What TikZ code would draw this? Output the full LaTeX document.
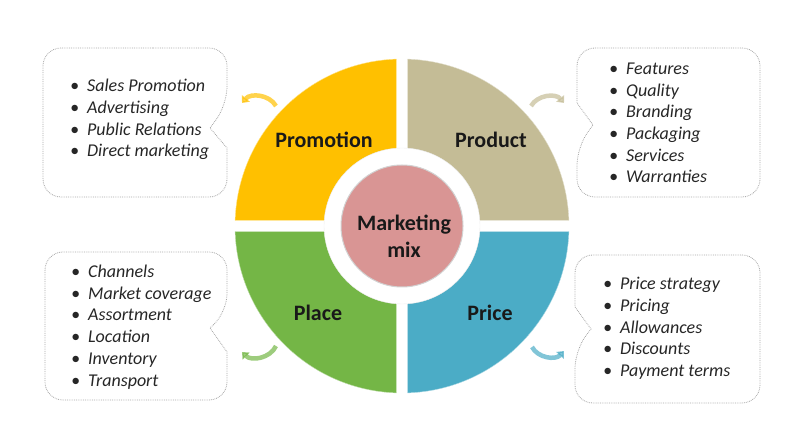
\documentclass[tikz,border=0pt]{standalone}
\usepackage{fontspec}
\setmainfont{Carlito}
\usetikzlibrary{arrows.meta}

\definecolor{promocol}{HTML}{FFC000}
\definecolor{prodcol}{HTML}{C4BC96}
\definecolor{placecol}{HTML}{74B646}
\definecolor{pricecol}{HTML}{4BACC6}
\definecolor{mixcol}{HTML}{D99594}

\tikzset{
  quadlabel/.style={font=\bfseries\fontsize{22}{27}\selectfont, text=black!90, align=center},
  callout/.style={draw=gray!70, densely dotted, line width=0.8pt},
  items/.style={font=\itshape\fontsize{18}{21.7}\selectfont, text=black!85, align=left, anchor=west, inner sep=0pt},
  turnarrow/.style={line width=4.5pt, -{Triangle[length=6pt,width=10pt]}, opacity=0.7},
}

\begin{document}
\begin{tikzpicture}[x=1pt,y=1pt]
    \useasboundingbox (0,0) rectangle (800,425);
    % the four quarters
    \begin{scope}[shift={(402,199)}]
      \filldraw[fill=promocol, draw=promocol!45!white] (-5.5,5.5) -- (91.9:167) arc[start angle=91.9, end angle=178.1, radius=167] -- cycle;
      \filldraw[fill=prodcol, draw=prodcol!45!white] (5.5,5.5) -- (1.9:167) arc[start angle=1.9, end angle=88.1, radius=167] -- cycle;
      \filldraw[fill=placecol, draw=placecol!45!white] (-5.5,-5.5) -- (181.9:167) arc[start angle=181.9, end angle=268.1, radius=167] -- cycle;
      \filldraw[fill=pricecol, draw=pricecol!45!white] (5.5,-5.5) -- (271.9:167) arc[start angle=271.9, end angle=358.1, radius=167] -- cycle;
      \filldraw[fill=white, draw=gray!15] (0,0) circle[radius=78];
      \filldraw[fill=mixcol, draw=gray!35, line width=1pt] (0,0) circle[radius=61];
    \end{scope}
    \node[quadlabel] (mix) at (404,189) {Marketing\\mix};
    \node[quadlabel] (promo) at (324,285) {Promotion};
    \node[quadlabel] (prod) at (491,285) {Product};
    \node[quadlabel] (place) at (318,112) {Place};
    \node[quadlabel] (price) at (490,112) {Price};
    % callout boxes
    \draw[callout, rounded corners=18] (135,377) -- (227,377) -- (227,320) [sharp corners] -- (210,297) -- (227,277) [rounded corners=18] -- (227,228) -- (43,228) -- (43,377) -- cycle;
    \draw[callout, rounded corners=18] (670,377) -- (760,377) -- (760,228) -- (577,228) -- (577,278) [sharp corners] -- (593,300) -- (577,322) [rounded corners=18] -- (577,377) -- cycle;
    \draw[callout, rounded corners=18] (135,173) -- (227,173) -- (227,113) [sharp corners] -- (210,97) -- (227,73) [rounded corners=18] -- (227,25) -- (45,25) -- (45,173) -- cycle;
    \draw[callout, rounded corners=18] (670,170) -- (760,170) -- (760,22) -- (575,22) -- (575,75) [sharp corners] -- (591,96) -- (575,118) [rounded corners=18] -- (575,170) -- cycle;
    \node[items] (promolist) at (70,305.5) {\textbullet\hspace{8pt}Sales Promotion\\ \textbullet\hspace{8pt}Advertising\\ \textbullet\hspace{8pt}Public Relations\\ \textbullet\hspace{8pt}Direct marketing};
    \node[items] (prodlist) at (609,302) {\textbullet\hspace{8pt}Features\\ \textbullet\hspace{8pt}Quality\\ \textbullet\hspace{8pt}Branding\\ \textbullet\hspace{8pt}Packaging\\ \textbullet\hspace{8pt}Services\\ \textbullet\hspace{8pt}Warranties};
    \node[items] (placelist) at (71,98) {\textbullet\hspace{8pt}Channels\\ \textbullet\hspace{8pt}Market coverage\\ \textbullet\hspace{8pt}Assortment\\ \textbullet\hspace{8pt}Location\\ \textbullet\hspace{8pt}Inventory\\ \textbullet\hspace{8pt}Transport};
    \node[items] (pricelist) at (603,96.5) {\textbullet\hspace{8pt}Price strategy\\ \textbullet\hspace{8pt}Pricing\\ \textbullet\hspace{8pt}Allowances\\ \textbullet\hspace{8pt}Discounts\\ \textbullet\hspace{8pt}Payment terms};
    % small curved arrows
    \coordinate (promoA) at (276,319);
    \coordinate (promoB) at (242,322);
    \coordinate (prodA) at (531,319);
    \coordinate (prodB) at (564,322);
    \coordinate (placeA) at (276,79);
    \coordinate (placeB) at (242,73);
    \coordinate (priceA) at (532,78);
    \coordinate (priceB) at (564,74);
    \draw[turnarrow, promocol] (promoA) to[bend right=55] (promoB);
    \draw[turnarrow, prodcol] (prodA) to[bend left=55] (prodB);
    \draw[turnarrow, placecol] (placeA) to[bend left=55] (placeB);
    \draw[turnarrow, pricecol] (priceA) to[bend right=55] (priceB);
  \end{tikzpicture}
\end{document}
